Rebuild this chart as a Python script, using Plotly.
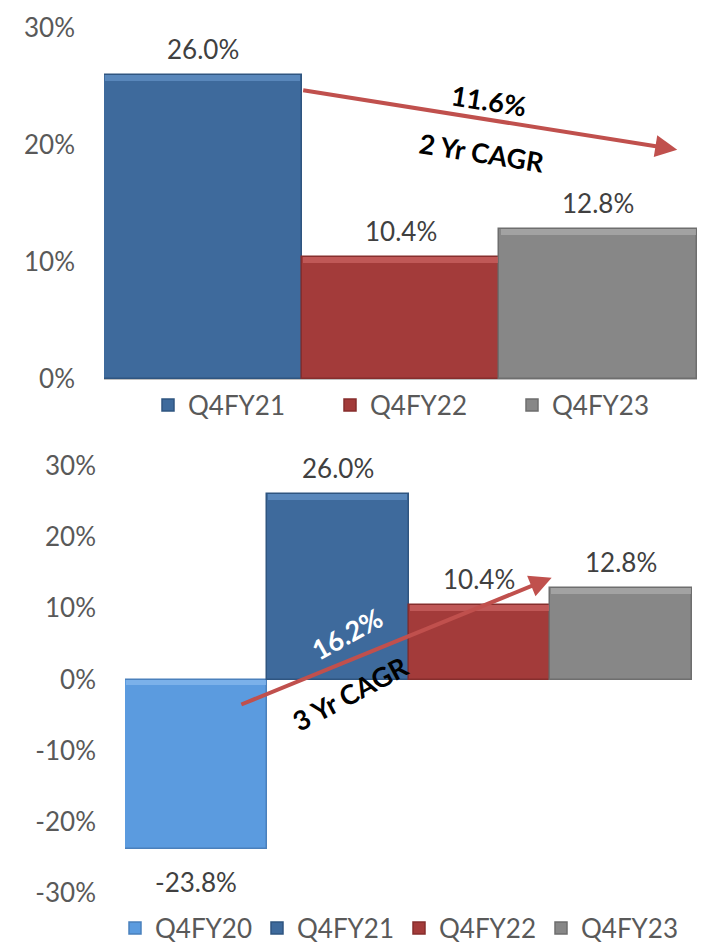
import plotly.graph_objects as go

# top panel: 2-year view
TOP_CATS = ['Q4FY21', 'Q4FY22', 'Q4FY23']
TOP_VALS = [26.0, 10.4, 12.8]
TOP_TICKS = [0, 10, 20, 30]

# bottom panel: 3-year view
BOT_CATS = ['Q4FY20', 'Q4FY21', 'Q4FY22', 'Q4FY23']
BOT_VALS = [-23.8, 26.0, 10.4, 12.8]
BOT_TICKS = [-30, -20, -10, 0, 10, 20, 30]

CAGR_2Y = '11.6%'
CAGR_3Y = '16.2%'

COLORS = {
    'Q4FY20': '#5B9BDF',
    'Q4FY21': '#3E6A9C',
    'Q4FY22': '#A33B3A',
    'Q4FY23': '#878787',
}
EDGE = {
    'Q4FY20': '#4A80BC',
    'Q4FY21': '#2F5580',
    'Q4FY22': '#862E2D',
    'Q4FY23': '#6E6E6E',
}
HILITE = {
    'Q4FY20': '#86B8EE',
    'Q4FY21': '#6391C6',
    'Q4FY22': '#C96361',
    'Q4FY23': '#ABABAB',
}
ARROW_CLR = '#C0504D'
FONT = 'Lato, Roboto, sans-serif'
TXT = '#595959'

# page body has an 8px margin; work in window pixels and convert
OFF = 8
W, H = 705 - OFF, 944 - OFF


def px(x):
    return (x - OFF) / W


def py(y):
    return 1 - (y - OFF) / H


def add_panel(fig, cats, vals, xa, ya, leg, strip):
    for cat, val in zip(cats, vals):
        fig.add_trace(go.Bar(
            x=[cat], y=[val], name=cat, width=1,
            marker=dict(color=COLORS[cat], line=dict(color=EDGE[cat], width=1.5)),
            xaxis=xa, yaxis=ya, legend=leg, hoverinfo='skip',
        ))
        fig.add_annotation(
            x=cat, y=val, xref=xa, yref=ya, text=f'{val:.1f}%', showarrow=False,
            yanchor='bottom' if val >= 0 else 'top',
            yshift=8 if val >= 0 else -15,
            font=dict(size=26, color='#404040', family=FONT),
        )
    # bevel highlight along the top edge of each bar
    for cat, val in zip(cats, vals):
        top = max(val, 0)
        fig.add_trace(go.Bar(
            x=[cat], y=[strip], base=[top - strip], width=0.985,
            marker=dict(color=HILITE[cat], line=dict(width=0), opacity=0.75),
            showlegend=False, xaxis=xa, yaxis=ya, hoverinfo='skip',
        ))


fig = go.Figure()
add_panel(fig, TOP_CATS, TOP_VALS, 'x', 'y', 'legend', 0.5)
add_panel(fig, BOT_CATS, BOT_VALS, 'x2', 'y2', 'legend2', 0.8)

axis_font = dict(size=26, color=TXT, family=FONT)
leg_font = dict(size=26, color=TXT, family=FONT)

fig.update_layout(
    width=W, height=H,
    paper_bgcolor='white', plot_bgcolor='white',
    margin=dict(l=0, r=0, t=0, b=0, autoexpand=False),
    barmode='overlay', bargap=0,
    font=dict(family=FONT, color=TXT),
    xaxis=dict(domain=[px(104), px(697)], anchor='y', showticklabels=False,
               showgrid=False, showline=False, zeroline=False,
               categoryorder='array', categoryarray=TOP_CATS,
               range=[-0.5, 2.5], fixedrange=True, automargin=False),
    yaxis=dict(domain=[py(379), py(28)], anchor='x', range=[0, 30],
               tickvals=TOP_TICKS, ticktext=[f'{v}%' for v in TOP_TICKS],
               tickfont=axis_font, showgrid=False, zeroline=True,
               zerolinecolor='#BFBFBF', zerolinewidth=2, showline=False,
               ticks='', ticklabelstandoff=28, automargin=False),
    xaxis2=dict(domain=[px(125), px(692)], anchor='y2', showticklabels=False,
                showgrid=False, showline=False, zeroline=False,
                categoryorder='array', categoryarray=BOT_CATS,
                range=[-0.5, 3.5], fixedrange=True, automargin=False),
    yaxis2=dict(domain=[py(893), py(466)], anchor='x2', range=[-30, 30],
                tickvals=BOT_TICKS, ticktext=[f'{v}%' for v in BOT_TICKS],
                tickfont=axis_font, showgrid=False, zeroline=False,
                showline=False, ticks='', ticklabelstandoff=28, automargin=False),
    legend=dict(orientation='h', x=px(148), y=py(405), xanchor='left',
                yanchor='middle', font=leg_font,
                itemwidth=30, entrywidth=137, bgcolor='rgba(0,0,0,0)'),
    legend2=dict(orientation='h', x=px(115), y=py(928), xanchor='left',
                 yanchor='middle', font=leg_font,
                 itemwidth=30, entrywidth=97, bgcolor='rgba(0,0,0,0)'),
    showlegend=True,
)

# CAGR arrows
fig.add_annotation(x=2.4, y=19.6, ax=0.5, ay=24.7, xref='x', yref='y',
                   axref='x', ayref='y', showarrow=True, arrowhead=2,
                   arrowsize=1.1, arrowwidth=4, arrowcolor=ARROW_CLR, text='')
fig.add_annotation(x=2.51, y=14.3, ax=0.31, ay=-3.6, xref='x2', yref='y2',
                   axref='x2', ayref='y2', showarrow=True, arrowhead=2,
                   arrowsize=1.1, arrowwidth=4, arrowcolor=ARROW_CLR, text='')

bold = dict(size=27, color='black', family=FONT)
labels = [
    (489, 101, f'<b>{CAGR_2Y}</b>', 9, bold),
    (482, 152, '<b>2 Yr CAGR</b>', 9, bold),
    (347, 633, f'<b>{CAGR_3Y}</b>', -29, dict(bold, color='white')),
    (350, 693, '<b>3 Yr CAGR</b>', -28, bold),
]
for x, y, txt, ang, f in labels:
    fig.add_annotation(x=px(x), y=py(y), xref='paper', yref='paper',
                       xanchor='center', yanchor='middle', text=txt,
                       showarrow=False, textangle=ang, font=f)

fig.write_html('out.html')
